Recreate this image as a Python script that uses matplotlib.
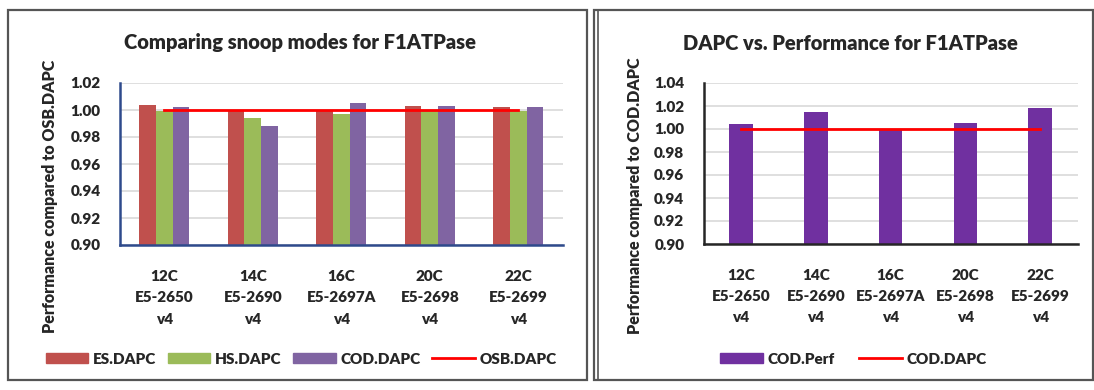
import matplotlib
matplotlib.use("Agg")
import matplotlib.pyplot as plt
import numpy as np
from matplotlib.patches import Rectangle, Patch
from matplotlib.lines import Line2D

# Processor configurations
categories = ["12C\nE5-2650\nv4", "14C\nE5-2690\nv4", "16C\nE5-2697A\nv4",
              "20C\nE5-2698\nv4", "22C\nE5-2699\nv4"]

# Snoop mode performance relative to OSB.DAPC
es_dapc = [1.004, 1.000, 1.000, 1.003, 1.002]
hs_dapc = [0.999, 0.994, 0.997, 0.999, 0.999]
cod_dapc = [1.002, 0.988, 1.005, 1.003, 1.002]
osb_dapc = [1.000, 1.000, 1.000, 1.000, 1.000]

# COD performance relative to COD.DAPC
cod_perf = [1.004, 1.015, 1.000, 1.005, 1.018]
cod_dapc_ref = [1.000, 1.000, 1.000, 1.000, 1.000]

left_ticks = [0.90, 0.92, 0.94, 0.96, 0.98, 1.00, 1.02]
right_ticks = [0.90, 0.92, 0.94, 0.96, 0.98, 1.00, 1.02, 1.04]

W, H = 1094, 390
FONT = "Lato"
WEIGHT = "heavy"
TXT = "#262626"
plt.rcParams["font.family"] = [FONT, "DejaVu Sans"]
plt.rcParams["font.weight"] = WEIGHT

fig = plt.figure(figsize=(W / 100, H / 100), dpi=100)


def px_axes(x0, x1, ytop, ybot):
    return fig.add_axes([x0 / W, 1 - ybot / H, (x1 - x0) / W, (ybot - ytop) / H])


# panel frames
def frame(x0, x1, y0, y1, double_left=False):
    fig.patches.append(Rectangle((x0 / W, 1 - y1 / H), (x1 - x0) / W, (y1 - y0) / H,
                                 transform=fig.transFigure, fill=False,
                                 edgecolor="#555555", linewidth=1.6))
    if double_left:
        fig.lines.append(Line2D([(x0 + 4) / W] * 2, [1 - y1 / H, 1 - y0 / H],
                                transform=fig.transFigure, color="#555555", lw=1.2))


frame(8, 587, 10, 380)
frame(594, 1093, 10, 380, double_left=True)

grid_c = "#D9D9D9"
x = np.arange(len(categories))


def style_axes(ax, spine_color, ylabel, label_x):
    for s in ("top", "right"):
        ax.spines[s].set_visible(False)
    for s in ("left", "bottom"):
        ax.spines[s].set_color(spine_color)
        ax.spines[s].set_linewidth(1.8)
    ax.yaxis.grid(True, color=grid_c, lw=1.2, zorder=0)
    ax.set_axisbelow(True)
    ax.tick_params(length=0, labelsize=11, colors=TXT)
    ax.tick_params(axis="y", pad=14)
    ax.tick_params(axis="x", pad=18)
    ax.set_ylabel(ylabel, fontsize=11.5, fontweight=WEIGHT, color=TXT)
    ax.yaxis.set_label_coords(label_x, 0.30)
    for lab in ax.get_xticklabels() + ax.get_yticklabels():
        lab.set_fontweight(WEIGHT)


# ---- left chart ----
ax1 = px_axes(120, 562.5, 83, 245)
bw = 0.1875
c_es, c_hs, c_cod = "#C0504D", "#9BBB59", "#8064A2"
ax1.bar(x - bw, es_dapc, bw, color=c_es, zorder=2)
ax1.bar(x, hs_dapc, bw, color=c_hs, zorder=2)
ax1.bar(x + bw, cod_dapc, bw, color=c_cod, zorder=2)
ax1.plot(x, osb_dapc, color="#FF0000", lw=2, zorder=3)
ax1.set_ylim(0.90, 1.02)
ax1.set_xlim(-0.5, len(categories) - 0.5)
ax1.set_yticks(left_ticks)
ax1.set_yticklabels([f"{v:.2f}" for v in left_ticks])
ax1.set_xticks(x)
ax1.set_xticklabels(categories, linespacing=1.75)
style_axes(ax1, "#2E4A8C", "Performance compared to OSB.DAPC", -0.14)

fig.text(300 / W, 1 - 43 / H, "Comparing snoop modes for F1ATPase", ha="center",
         va="center", fontsize=14.5, fontweight=WEIGHT, color=TXT)

legend_prop = {"family": [FONT, "DejaVu Sans"], "weight": WEIGHT, "size": 11}
h1 = [Patch(color=c_es, label="ES.DAPC"), Patch(color=c_hs, label="HS.DAPC"),
      Patch(color=c_cod, label="COD.DAPC"),
      Line2D([], [], color="#FF0000", lw=2, label="OSB.DAPC")]
fig.legend(handles=h1, loc="center", bbox_to_anchor=(301 / W, 1 - 359 / H), ncol=4,
           frameon=False, handlelength=2.8, handleheight=0.6, handletextpad=0.3,
           columnspacing=0.75, prop=legend_prop, labelcolor=TXT)

# ---- right chart ----
ax2 = px_axes(703.7, 1077.5, 83, 244)
c_perf = "#7030A0"
ax2.bar(x, cod_perf, 0.317, color=c_perf, zorder=2)
ax2.plot(x, cod_dapc_ref, color="#FF0000", lw=2, zorder=3)
ax2.set_ylim(0.90, 1.04)
ax2.set_xlim(-0.5, len(categories) - 0.5)
ax2.set_yticks(right_ticks)
ax2.set_yticklabels([f"{v:.2f}" for v in right_ticks])
ax2.set_xticks(x)
ax2.set_xticklabels(categories, linespacing=1.75)
style_axes(ax2, "#262626", "Performance compared to COD.DAPC", -0.163)

fig.text(850 / W, 1 - 43 / H, "DAPC vs. Performance for F1ATPase", ha="center",
         va="center", fontsize=14.5, fontweight=WEIGHT, color=TXT)

h2 = [Patch(color=c_perf, label="COD.Perf"),
      Line2D([], [], color="#FF0000", lw=2, label="COD.DAPC")]
fig.legend(handles=h2, loc="center", bbox_to_anchor=(853 / W, 1 - 359 / H), ncol=2,
           frameon=False, handlelength=2.8, handleheight=0.6, handletextpad=0.3,
           columnspacing=1.6, prop=legend_prop, labelcolor=TXT)

fig.savefig("out.png", dpi=100, facecolor="white")
